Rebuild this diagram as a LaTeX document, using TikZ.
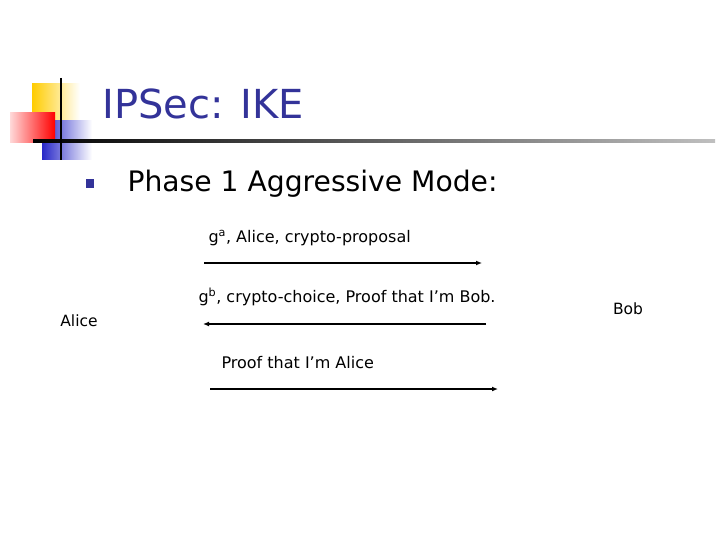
\documentclass[tikz,border=0pt]{standalone}
\usepackage{xcolor}
\usepackage{fontspec}
\setmainfont{DejaVu Sans}
\usetikzlibrary{arrows.meta}
\definecolor{titleblue}{RGB}{51,51,153}
\definecolor{logoyellow}{RGB}{255,204,0}
\definecolor{logoblue}{RGB}{40,40,200}
\tikzset{
  msg/.style={font=\fontsize{16}{19}\selectfont, anchor=west},
  party/.style={font=\fontsize{15.5}{18}\selectfont},
  flow/.style={line width=2pt, -{Latex[length=6pt,width=5pt]}}
}

\begin{document}
\begin{tikzpicture}[x=1pt,y=-1pt]
\useasboundingbox (0,0) rectangle (720,540);
% logo
\shade[left color=logoyellow, right color=white] (32,84) rectangle (80,121);
\shade[left color=logoblue, right color=white] (42,121) rectangle (92,160);
\shade[left color=red!15, right color=red] (10,113) rectangle (55,143);
\shade[left color=black, right color=black!25] (33,140) rectangle (715,142.5);
\draw[line width=2.5pt] (61,78) -- (61,160);
% title
\node (title) at (99,104) [anchor=west, text=titleblue, font=\fontsize{40}{48}\selectfont] {IPSec: IKE};
\fill[titleblue] (86,179) rectangle (94,188);
\node (phase) at (124,184) [anchor=west, font=\fontsize{28.2}{33}\selectfont] {Phase 1 Aggressive Mode:};
% parties
\node (alice) at (79,321) [party] {Alice};
\node (bob) at (628,309) [party] {Bob};
% messages
\node (m1) at (205,238) [msg] {g\textsuperscript{a}, Alice, crypto-proposal};
\coordinate (s1) at (204,263);
\coordinate (e1) at (482,263);
\draw[flow] (s1) -- (e1);
\node (m2) at (195,297) [msg] {g\textsuperscript{b}, crypto-choice, Proof that I’m Bob.};
\coordinate (s2) at (486,324);
\coordinate (e2) at (203,324);
\draw[flow] (s2) -- (e2);
\node (m3) at (218,363) [msg] {Proof that I’m Alice};
\coordinate (s3) at (210,389);
\coordinate (e3) at (498,389);
\draw[flow] (s3) -- (e3);
\end{tikzpicture}
\end{document}
